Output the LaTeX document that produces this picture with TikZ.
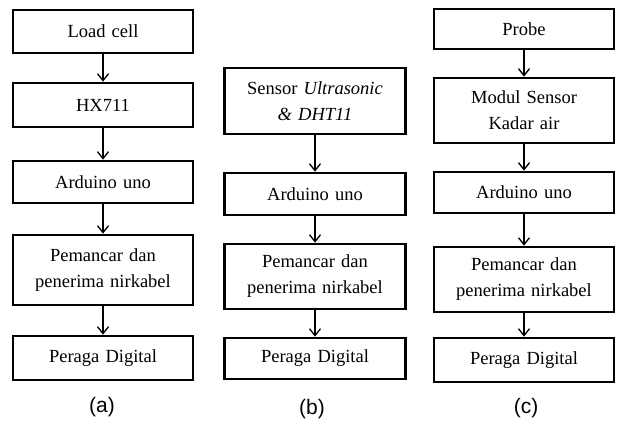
\documentclass[tikz,border=0pt]{standalone}
\usepackage{fontspec}
\setmainfont{Liberation Serif}
\newfontfamily\boxfont{Liberation Serif}
\newfontfamily\labfont{Liberation Sans}
\usetikzlibrary{arrows.meta}
\begin{document}
\begin{tikzpicture}[x=1pt,y=-1pt,
  blk/.style={draw=black, line width=2.6pt, fill=white, inner sep=0pt,
    text width=176pt, align=center, minimum width=180pt,
    font=\boxfont\fontsize{18.5}{26}\selectfont},
  conn/.style={line width=1.3pt, -{Straight Barb[length=7pt,width=11pt,line width=1.3pt]}},
  sublabel/.style={font=\labfont\fontsize{21}{24}\selectfont}]
\useasboundingbox (0,0) rectangle (617,423);
% column (a)
\node[blk, minimum height=43pt] (a1) at (103,31.5) {Load cell};
\node[blk, minimum height=44pt] (a2) at (103,105) {HX711};
\node[blk, minimum height=42pt] (a3) at (103,182) {Arduino uno};
\node[blk, minimum height=70pt] (a4) at (103,270) {Pemancar dan\\ penerima nirkabel};
\node[blk, minimum height=44pt] (a5) at (103,358) {Peraga Digital};
\node[sublabel] (la) at (102,407) {(a)};
\draw[conn] (a1) -- (a2);
\draw[conn] (a2) -- (a3);
\draw[conn] (a3) -- (a4);
\draw[conn] (a4) -- (a5);
% column (b)
\node[blk, minimum width=181pt, minimum height=66pt] (b1) at (315,101) {Sensor \textit{Ultrasonic}\\ \textit{\& DHT11}};
\node[blk, minimum width=181pt, minimum height=42pt] (b2) at (315,194) {Arduino uno};
\node[blk, minimum width=181pt, minimum height=65pt] (b3) at (315,276.5) {Pemancar dan\\ penerima nirkabel};
\node[blk, minimum width=181pt, minimum height=41pt] (b4) at (315,358.5) {Peraga Digital};
\node[sublabel] (lb) at (312,409) {(b)};
\draw[conn] (b1) -- (b2);
\draw[conn] (b2) -- (b3);
\draw[conn] (b3) -- (b4);
% column (c)
\node[blk, minimum height=40pt] (c1) at (524,29) {Probe};
\node[blk, minimum height=65pt] (c2) at (524,110.5) {Modul Sensor\\ Kadar air};
\node[blk, minimum height=41pt] (c3) at (524,192.5) {Arduino uno};
\node[blk, minimum height=65pt] (c4) at (524,279.5) {Pemancar dan\\ penerima nirkabel};
\node[blk, minimum height=44pt] (c5) at (524,360) {Peraga Digital};
\node[sublabel] (lc) at (526,408) {(c)};
\draw[conn] (c1) -- (c2);
\draw[conn] (c2) -- (c3);
\draw[conn] (c3) -- (c4);
\draw[conn] (c4) -- (c5);
\end{tikzpicture}
\end{document}
